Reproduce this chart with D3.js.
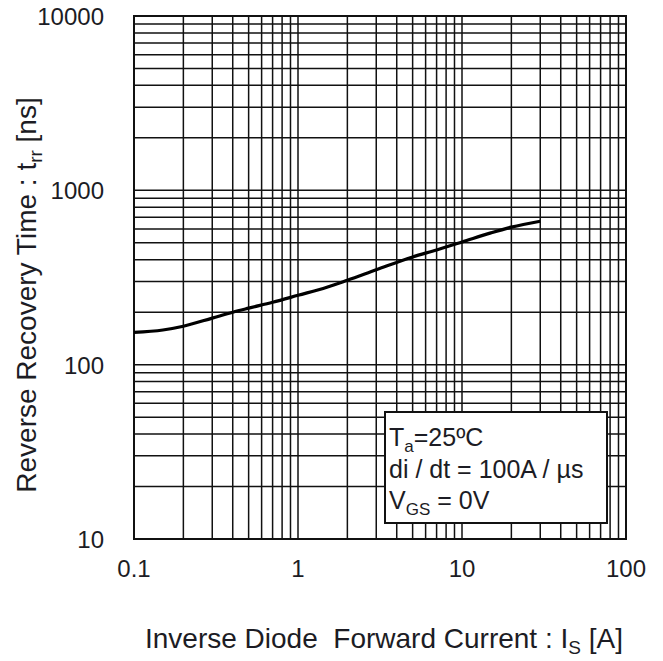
<!DOCTYPE html>
<html>
<head>
<meta charset="utf-8">
<script src="https://cdn.jsdelivr.net/npm/d3@7"></script>
<style>
  html, body { margin: 0; padding: 0; background: #fff; }
  svg { display: block; font-family: "Liberation Sans", Arial, sans-serif; }
  svg text { white-space: pre; }
</style>
</head>
<body>
<svg id="chart" width="663" height="661"></svg>
<script>
// Forward current Is [A] and reverse recovery time trr [ns]
const currentA = [0.1, 0.15, 0.2, 0.3, 0.4, 0.5, 0.7, 1, 1.5, 2, 3, 5, 7, 10, 15, 20, 30];
const trrNs    = [153, 158, 166, 185, 200, 211, 228, 250, 278, 305, 350, 415, 455, 505, 570, 615, 665];

const xTickValues = [0.1, 1, 10, 100];
const xTickLabels = ["0.1", "1", "10", "100"];
const yTickValues = [10, 100, 1000, 10000];
const yTickLabels = ["10", "100", "1000", "10000"];

const svg = d3.select("#chart");
const plotLeft = 134, plotRight = 626, plotTop = 16, plotBottom = 539;

const x = d3.scaleLog().domain([0.1, 100]).range([plotLeft, plotRight]);
const y = d3.scaleLog().domain([10, 10000]).range([plotBottom, plotTop]);

// every 1..9 multiple within each decade
const gridX = x.ticks(30).filter(v => v > 0.1 && v < 100);
const gridY = y.ticks(30).filter(v => v > 10 && v < 10000);

const g = svg.append("g");
const ink = "#111";
const textInk = "#1c1c24";

g.selectAll("line.gx").data(gridX).join("line")
  .attr("x1", d => x(d)).attr("x2", d => x(d))
  .attr("y1", plotTop).attr("y2", plotBottom)
  .attr("stroke", ink).attr("stroke-width", 1.5);

g.selectAll("line.gy").data(gridY).join("line")
  .attr("x1", plotLeft).attr("x2", plotRight)
  .attr("y1", d => y(d)).attr("y2", d => y(d))
  .attr("stroke", ink).attr("stroke-width", 1.5);

// plot frame
g.append("rect")
  .attr("x", plotLeft).attr("y", plotTop)
  .attr("width", plotRight - plotLeft).attr("height", plotBottom - plotTop)
  .attr("fill", "none").attr("stroke", ink).attr("stroke-width", 2);

// curve
const line = d3.line().x((d, i) => x(currentA[i])).y(d => y(d)).curve(d3.curveMonotoneX);
g.append("path").datum(trrNs)
  .attr("d", line)
  .attr("fill", "none").attr("stroke", "#000").attr("stroke-width", 3.2);

// conditions box
const box = g.append("g");
box.append("rect")
  .attr("x", 385).attr("y", 412).attr("width", 222).attr("height", 111)
  .attr("fill", "#fff").attr("stroke", ink).attr("stroke-width", 2);

const legendFont = 25, legendSub = 17;
const t1 = box.append("text").attr("x", 389).attr("y", 446).attr("font-size", legendFont).attr("fill", textInk);
t1.append("tspan").text("T");
t1.append("tspan").attr("font-size", legendSub).attr("dy", 6).text("a");
t1.append("tspan").attr("dy", -6).text("=25ºC");

box.append("text").attr("x", 389).attr("y", 478).attr("font-size", legendFont).attr("fill", textInk)
  .text("di / dt = 100A / µs");

const t3 = box.append("text").attr("x", 389).attr("y", 509).attr("font-size", legendFont).attr("fill", textInk);
t3.append("tspan").text("V");
t3.append("tspan").attr("font-size", legendSub).attr("dy", 6).text("GS");
t3.append("tspan").attr("dy", -6).text(" = 0V");

// tick labels
g.selectAll("text.xt").data(xTickValues).join("text")
  .attr("x", d => x(d)).attr("y", 577)
  .attr("text-anchor", "middle").attr("font-size", 24).attr("fill", textInk)
  .text((d, i) => xTickLabels[i]);

g.selectAll("text.yt").data(yTickValues).join("text")
  .attr("x", 104).attr("y", d => y(d) + 9)
  .attr("text-anchor", "end").attr("font-size", 24).attr("fill", textInk)
  .text((d, i) => yTickLabels[i]);

// axis titles
const titleFont = 28, titleSub = 19;
const xt = g.append("text").attr("x", 384).attr("y", 648)
  .attr("text-anchor", "middle").attr("font-size", titleFont).attr("fill", textInk);
xt.append("tspan").text("Inverse Diode  Forward Current : I");
xt.append("tspan").attr("font-size", titleSub).attr("dy", 6).text("S");
xt.append("tspan").attr("dy", -6).text(" [A]");

const yt = g.append("text").attr("transform", "translate(36,295) rotate(-90)")
  .attr("text-anchor", "middle").attr("font-size", titleFont).attr("fill", textInk);
yt.append("tspan").text("Reverse Recovery Time : t");
yt.append("tspan").attr("font-size", titleSub).attr("dy", 6).text("rr");
yt.append("tspan").attr("dy", -6).text(" [ns]");
</script>
</body>
</html>
